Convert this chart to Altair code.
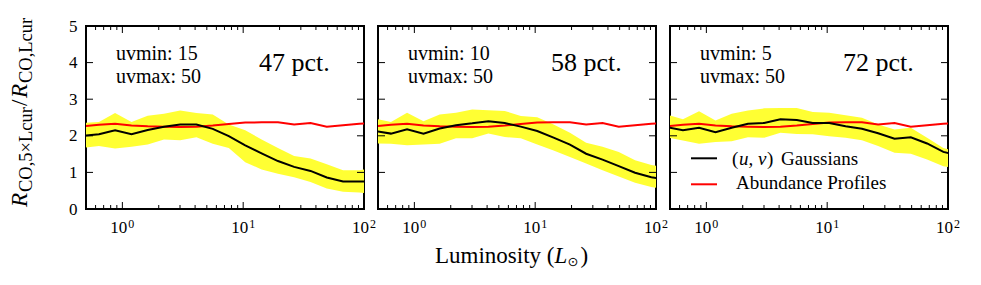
import altair as alt
import pandas as pd

# ---------------- data ----------------
lum = [0.47, 0.64, 0.87, 1.19, 1.62, 2.21, 3.01, 4.1, 5.6, 7.6, 10.4, 14.2,
       19.4, 26.4, 36.1, 49.2, 67.1, 91.5, 124.8]

abundance = [2.26, 2.30, 2.33, 2.28, 2.26, 2.25, 2.24, 2.25, 2.28, 2.32, 2.36,
             2.37, 2.37, 2.31, 2.35, 2.25, 2.29, 2.33, 2.34]

gauss_15 = [2.00, 2.04, 2.15, 2.04, 2.16, 2.25, 2.31, 2.31, 2.19, 1.99, 1.74,
            1.52, 1.31, 1.15, 1.04, 0.86, 0.75, 0.75, 0.76]
hi_15 = [2.35, 2.38, 2.62, 2.38, 2.55, 2.60, 2.69, 2.62, 2.58, 2.31, 2.15,
         1.90, 1.67, 1.45, 1.38, 1.22, 1.06, 1.06, 1.12]
lo_15 = [1.67, 1.72, 1.65, 1.70, 1.76, 1.90, 1.88, 1.96, 1.78, 1.67, 1.28,
         1.08, 0.96, 0.87, 0.74, 0.56, 0.47, 0.45, 0.40]

gauss_10 = [2.13, 2.06, 2.18, 2.06, 2.20, 2.29, 2.34, 2.40, 2.35, 2.25, 2.13,
            1.95, 1.76, 1.51, 1.35, 1.17, 0.99, 0.87, 0.80]
hi_10 = [2.47, 2.38, 2.63, 2.40, 2.58, 2.63, 2.72, 2.70, 2.68, 2.54, 2.51,
         2.31, 2.08, 1.81, 1.70, 1.56, 1.33, 1.20, 1.13]
lo_10 = [1.79, 1.78, 1.74, 1.76, 1.78, 1.93, 1.93, 2.06, 1.97, 1.93, 1.76,
         1.60, 1.42, 1.24, 1.06, 0.89, 0.72, 0.60, 0.54]

gauss_5 = [2.24, 2.15, 2.22, 2.10, 2.22, 2.33, 2.35, 2.45, 2.43, 2.35, 2.35,
           2.26, 2.19, 2.07, 1.92, 1.96, 1.79, 1.56, 1.45]
hi_5 = [2.58, 2.45, 2.67, 2.42, 2.60, 2.69, 2.75, 2.76, 2.76, 2.65, 2.63,
        2.56, 2.49, 2.31, 2.17, 2.22, 1.95, 1.67, 1.55]
lo_5 = [1.96, 1.87, 1.78, 1.83, 1.85, 1.96, 1.95, 2.08, 2.05, 2.04, 1.99,
        1.95, 1.88, 1.72, 1.54, 1.51, 1.35, 1.17, 1.08]

uvmin_labels = ["uvmin:  15", "uvmin:  10", "uvmin:  5"]
uvmax_labels = ["uvmax:  50", "uvmax:  50", "uvmax:  50"]
pct_labels = ["47 pct.", "58 pct.", "72 pct."]

y_ticks = [0, 1, 2, 3, 4, 5]
x_major = [1, 10, 100]
x_major_base = ["10", "10", "10"]
x_major_exp = ["0", "1", "2"]
x_minor = [0.5, 0.6, 0.7, 0.8, 0.9, 2, 3, 4, 5, 6, 7, 8, 9,
           20, 30, 40, 50, 60, 70, 80, 90]

gauss = [gauss_15, gauss_10, gauss_5]
his = [hi_15, hi_10, hi_5]
los = [lo_15, lo_10, lo_5]

# ---------------- styling ----------------
W, H = 278, 183
FONT = "Liberation Serif"
YELLOW = "#ffff33"
RED = "#ff0000"

xscale = alt.Scale(type="log", domain=[0.5, 100], nice=False)
yscale = alt.Scale(domain=[0, 5], nice=False)


def text_layer(text, x, y, size, style="normal", align="left", angle=0,
               font=FONT):
    kw = dict(align=align, baseline="alphabetic", font=font, fontSize=size,
              fontStyle=style, color="black")
    if angle:
        kw["angle"] = angle
    return alt.Chart(pd.DataFrame({"t": [text]})).mark_text(**kw).encode(
        text="t:N", x=alt.value(x), y=alt.value(y))


def panel(i):
    df = pd.DataFrame({"L": lum, "g": gauss[i], "lo": los[i], "hi": his[i],
                       "a": abundance})
    if i == 0:
        yaxis = alt.Axis(values=y_ticks, ticks=False, domain=False, grid=False,
                         labelFont=FONT, labelFontSize=17, labelColor="black",
                         labelPadding=9, title=None)
    else:
        yaxis = None
    X = alt.X("L:Q", scale=xscale, axis=None)

    def Y(f):
        return alt.Y(f, type="quantitative", scale=yscale, axis=yaxis)

    base = alt.Chart(df)
    band = base.mark_area(color=YELLOW, opacity=1, clip=True).encode(
        x=X, y=Y("lo"), y2="hi:Q")
    red_line = base.mark_line(color=RED, strokeWidth=2, clip=True).encode(
        x=X, y=Y("a"))
    black_line = base.mark_line(color="black", strokeWidth=2, clip=True).encode(
        x=X, y=Y("g"))

    maj = alt.Chart(pd.DataFrame({"L": x_major, "b": x_major_base,
                                  "e": x_major_exp}))
    mnr = alt.Chart(pd.DataFrame({"L": x_minor}))
    yt = alt.Chart(pd.DataFrame({"v": y_ticks}))
    layers = [band, red_line, black_line,
              maj.mark_rule(color="black", strokeWidth=1).encode(
                  x=X, y=alt.value(H), y2=alt.value(H - 7)),
              maj.mark_rule(color="black", strokeWidth=1).encode(
                  x=X, y=alt.value(0), y2=alt.value(7)),
              mnr.mark_rule(color="black", strokeWidth=1).encode(
                  x=X, y=alt.value(H), y2=alt.value(H - 4)),
              mnr.mark_rule(color="black", strokeWidth=1).encode(
                  x=X, y=alt.value(0), y2=alt.value(4)),
              yt.mark_rule(color="black", strokeWidth=1).encode(
                  y=Y("v"), x=alt.value(0), x2=alt.value(7)),
              yt.mark_rule(color="black", strokeWidth=1).encode(
                  y=Y("v"), x=alt.value(W), x2=alt.value(W - 7)),
              # x tick labels 10^n
              maj.mark_text(align="right", baseline="alphabetic", font=FONT,
                            fontSize=17, color="black", dx=5).encode(
                  x=X, y=alt.value(H + 24), text="b:N"),
              maj.mark_text(align="left", baseline="alphabetic", font=FONT,
                            fontSize=12, color="black", dx=6).encode(
                  x=X, y=alt.value(H + 18.5), text="e:N"),
              ]

    layers += [text_layer(uvmin_labels[i], 30, 34.3, 20),
               text_layer(uvmax_labels[i], 30, 56.7, 20),
               text_layer(pct_labels[i], 173, 44.5, 26)]

    if i == 1:
        # x-axis title: Luminosity (L_sun)
        ty = H + 53.7
        layers += [text_layer("Luminosity (", 57, ty, 23),
                   text_layer("L", 176.5, ty, 23, style="italic"),
                   text_layer("⊙", 189.5, ty + 3, 13, font="DejaVu Sans"),
                   text_layer(")", 202.5, ty, 23)]

    if i == 2:
        leg = pd.DataFrame({"yy": [132.3, 158.3], "c": ["black", RED]})
        layers += [
            alt.Chart(leg).mark_rule(strokeWidth=2).encode(
                x=alt.value(21), x2=alt.value(47),
                y=alt.Y("yy:Q", scale=None, axis=None),
                color=alt.Color("c:N", scale=None, legend=None)),
            text_layer("(", 62, 139, 19),
            text_layer("u, v", 69, 139, 19, style="italic"),
            text_layer(")", 97, 139, 19),
            text_layer("Gaussians", 111, 139, 19),
            text_layer("Abundance Profiles", 66, 163.3, 19),
        ]

    if i == 0:
        # y-axis title: R_{CO,5xLcur} / R_{CO,Lcur}, composed of rotated pieces
        layers += [
            text_layer("R", -59, 181, 23, style="italic", angle=270),
            text_layer("CO,5×Lcur", -54, 166, 18.5, angle=270),
            text_layer("/", -59, 80, 23, angle=270),
            text_layer("R", -59, 72, 23, style="italic", angle=270),
            text_layer("CO,Lcur", -54, 57, 18.5, angle=270),
        ]

    return alt.layer(*layers).properties(width=W, height=H)


chart = alt.hconcat(panel(0), panel(1), panel(2), spacing=14,
                    bounds="flush").configure_view(
    stroke="black", strokeWidth=2).properties(
    padding={"left": 0, "top": 8, "right": 5, "bottom": 5},
    background="white")

chart.save("out.html", embed_options={"renderer": "svg", "actions": False})
